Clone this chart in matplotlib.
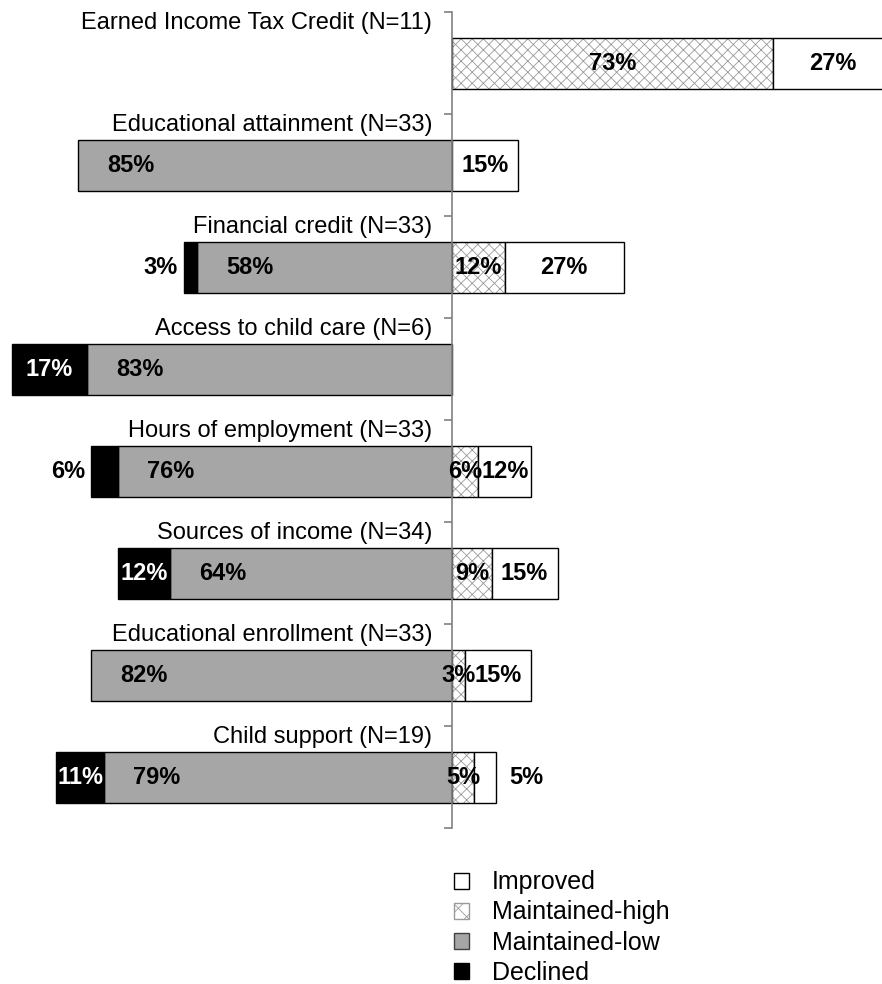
import matplotlib
matplotlib.use("Agg")
import matplotlib.pyplot as plt
from matplotlib.patches import Patch
import numpy as np

plt.rcParams['font.family'] = ['Liberation Sans', 'DejaVu Sans']
plt.rcParams['hatch.linewidth'] = 0.6

# data, top row first
categories = [
    "Earned Income Tax Credit (N=11)",
    "Educational attainment (N=33)",
    "Financial credit (N=33)",
    "Access to child care (N=6)",
    "Hours of employment (N=33)",
    "Sources of income (N=34)",
    "Educational enrollment (N=33)",
    "Child support (N=19)",
]
declined = [0, 0, 3, 17, 6, 12, 0, 11]
maintained_low = [0, 85, 58, 83, 76, 64, 82, 79]
maintained_high = [73, 0, 12, 0, 6, 9, 3, 5]
improved = [27, 15, 27, 0, 12, 15, 15, 5]

GRAY = "#a6a6a6"
AXIS = "#808080"
HATCH = "#9a9a9a"
FS = 17
bar_h = 0.5

fig = plt.figure(figsize=(8.82, 9.84), dpi=100)
ax = fig.add_axes([0, 1 - 828 / 984, 1, 816 / 984])

y = np.arange(len(categories))

for i in y:
    d, ml, mh, im = declined[i], maintained_low[i], maintained_high[i], improved[i]

    # left side: maintained-low next to the axis, declined further out
    if ml:
        ax.barh(i, -ml, height=bar_h, color=GRAY, edgecolor="black", linewidth=1, zorder=2)
        ax.text(-ml + 12, i, f"{ml}%", ha="center", va="center",
                fontsize=FS, fontweight="bold", zorder=5)
    if d:
        ax.barh(i, -d, left=-ml, height=bar_h, color="black", edgecolor="black", linewidth=1, zorder=2)
        if d >= 10:
            ax.text(-ml - d / 2, i, f"{d}%", ha="center", va="center",
                    fontsize=FS, fontweight="bold", color="white", zorder=5)
        else:
            ax.text(-ml - d - 1.3, i, f"{d}%", ha="right", va="center",
                    fontsize=FS, fontweight="bold", zorder=5)

    # right side: maintained-high next to the axis, improved further out
    if mh:
        ax.barh(i, mh, height=bar_h, color="white", edgecolor=HATCH, hatch="xxx", linewidth=0, zorder=2)
        ax.barh(i, mh, height=bar_h, fill=False, edgecolor="black", linewidth=1, zorder=3)
        ax.text(mh / 2, i, f"{mh}%", ha="center", va="center",
                fontsize=FS, fontweight="bold", zorder=5)
    if im:
        ax.barh(i, im, left=mh, height=bar_h, color="white", edgecolor="black", linewidth=1, zorder=3)
        if im >= 10:
            ax.text(mh + im / 2, i, f"{im}%", ha="center", va="center",
                    fontsize=FS, fontweight="bold", zorder=5)
        else:
            ax.text(mh + im + 3, i, f"{im}%", ha="left", va="center",
                    fontsize=FS, fontweight="bold", zorder=5)

    # category label above its bar, ending at the axis
    ax.text(-4.5, i - bar_h / 2 - 0.03, categories[i], ha="right", va="bottom", fontsize=FS)

ax.set_xlim(-102.7, 97.7)
ax.set_ylim(len(categories) - 0.5, -0.5)

for s in ["top", "right", "bottom"]:
    ax.spines[s].set_visible(False)
ax.spines["left"].set_position(("data", 0))
ax.spines["left"].set_color(AXIS)
ax.spines["left"].set_linewidth(1.2)
ax.spines["left"].set_zorder(4)
ax.set_yticks(np.arange(-0.5, len(categories), 1))
ax.tick_params(axis="y", length=6, width=1.2, color=AXIS, labelleft=False, direction="out")
ax.set_xticks([])
ax.patch.set_visible(False)

handles = [
    Patch(facecolor="white", edgecolor="black", linewidth=1),
    Patch(facecolor="white", edgecolor=HATCH, hatch="xx", linewidth=1),
    Patch(facecolor=GRAY, edgecolor="#404040", linewidth=1),
    Patch(facecolor="black", edgecolor="black", linewidth=1),
]
labels = ["Improved", "Maintained-high", "Maintained-low", "Declined"]
fig.legend(handles, labels, loc="upper left", bbox_to_anchor=(441 / 882, 1 - 858 / 984),
           frameon=False, fontsize=18, handlelength=0.6, handleheight=0.6,
           handletextpad=0.95, labelspacing=0.24, borderpad=0)

fig.savefig("out.png", dpi=100)
